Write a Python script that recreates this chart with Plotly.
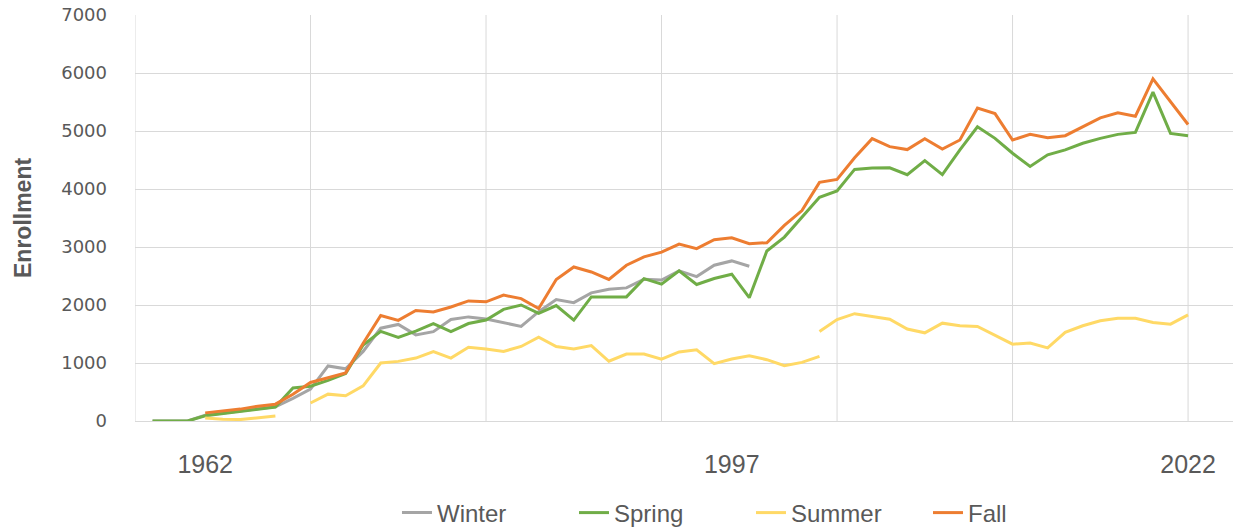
import plotly.graph_objects as go

# ---- data (category index 0..59) ----
n_points = 60
x_idx = list(range(n_points))

tick_idx = [3, 33, 59]
tick_labels = ["1962", "1997", "2022"]
grid_idx = [-1, 9, 19, 29, 39, 49, 59]

winter = [0, 0, 0, 100, 140, 170, 210, 245, 390, 550,
          950, 900, 1200, 1600, 1665, 1485, 1540, 1750, 1795, 1760,
          1700, 1630, 1885, 2095, 2040, 2210, 2270, 2295, 2445, 2430,
          2590, 2490, 2686, 2760, 2669] + [None] * 25

spring = [0, 0, 0, 90, 130, 160, 200, 240, 570, 600,
          700, 820, 1310, 1545, 1440, 1550, 1680, 1540, 1680, 1740,
          1925, 2000, 1855, 1990, 1740, 2140, 2140, 2140, 2455, 2360,
          2589, 2354, 2457, 2531, 2126, 2931, 3171, 3514, 3857, 3965,
          4338, 4360, 4365, 4247, 4490, 4247, 4674, 5073, 4873, 4617,
          4390, 4589, 4674, 4788, 4873, 4942, 4976, 5670, 4959, 4919]

# summer: first run covers indices 0..38, second run restarts at index 38
summer_early = [None, None, None, 50, 30, 25, 60, 85, None, 310,
                463, 435, 605, 1000, 1028, 1085, 1198, 1085, 1271, 1240,
                1200, 1285, 1445, 1285, 1240, 1300, 1030, 1155, 1155, 1065,
                1190, 1229, 989, 1069, 1126, 1057, 954, 1011, 1114]
summer_late = [1543, 1750, 1850, 1800, 1755, 1585, 1520, 1687, 1642, 1630,
               1471, 1325, 1345, 1260, 1528, 1642, 1727, 1772, 1772, 1698,
               1670, 1829]

fall = [None, None, None, 140, 175, 205, 255, 290, 460, 665,
        746, 830, 1340, 1820, 1735, 1905, 1880, 1965, 2070, 2055,
        2170, 2110, 1940, 2440, 2655, 2570, 2440, 2685, 2830, 2912,
        3050, 2971, 3126, 3160, 3057, 3074, 3371, 3629, 4114, 4165,
        4538, 4868, 4730, 4680, 4868, 4690, 4845, 5397, 5300, 4845,
        4942, 4885, 4919, 5073, 5226, 5312, 5255, 5898, 5499, 5112]

colors = {"Winter": "#A5A5A5", "Spring": "#70AD47", "Summer": "#FFD966", "Fall": "#ED7D31"}

summer_x = list(range(len(summer_early))) + [None] + list(range(38, 38 + len(summer_late)))
summer_y = summer_early + [None] + summer_late

fig = go.Figure()
fig.add_trace(go.Scatter(x=x_idx, y=winter, name="Winter", mode="lines",
                         line=dict(color=colors["Winter"], width=3)))
fig.add_trace(go.Scatter(x=x_idx, y=spring, name="Spring", mode="lines",
                         line=dict(color=colors["Spring"], width=3)))
fig.add_trace(go.Scatter(x=summer_x, y=summer_y, name="Summer", mode="lines",
                         line=dict(color=colors["Summer"], width=3)))
fig.add_trace(go.Scatter(x=x_idx, y=fall, name="Fall", mode="lines",
                         line=dict(color=colors["Fall"], width=3)))

for g in grid_idx:
    fig.add_shape(type="line", xref="x", yref="paper", x0=g, x1=g, y0=0, y1=1,
                  line=dict(color="#D9D9D9", width=1), layer="below")

fig.add_annotation(text="Enrollment", xref="paper", yref="paper", x=-0.102, y=0.5,
                   xanchor="center", yanchor="middle", textangle=-90, showarrow=False,
                   font=dict(family="Liberation Sans", size=23, color="#595959", weight="bold"))

fig.update_layout(
    width=1233, height=529,
    margin=dict(l=135, r=0, t=15, b=108, autoexpand=False),
    paper_bgcolor="white", plot_bgcolor="white",
    xaxis=dict(range=[-1, 61.56], tickmode="array", tickvals=tick_idx, ticktext=tick_labels,
               showgrid=False, zeroline=False, showline=False, ticks="",
               ticklabelstandoff=26, automargin=False, ticklabeloverflow="allow",
               tickfont=dict(family="Liberation Sans", size=25, color="#595959")),
    yaxis=dict(range=[0, 7000], dtick=1000, tick0=0, showgrid=True, gridcolor="#D9D9D9",
               gridwidth=1, zeroline=True, zerolinecolor="#D9D9D9", zerolinewidth=1,
               showline=False, ticks="", ticklabelstandoff=27, automargin=False,
               ticklabeloverflow="allow",
               tickfont=dict(family="DejaVu Sans", size=18, color="#595959")),
    legend=dict(orientation="h", x=0.561, xanchor="center", y=-0.2266, yanchor="middle",
                font=dict(family="Liberation Sans", size=24, color="#595959"),
                entrywidth=132, bgcolor="rgba(0,0,0,0)"),
    showlegend=True,
)

fig.write_html("out.html", config={"displayModeBar": False},
               post_script="document.body.style.margin='0px';")
